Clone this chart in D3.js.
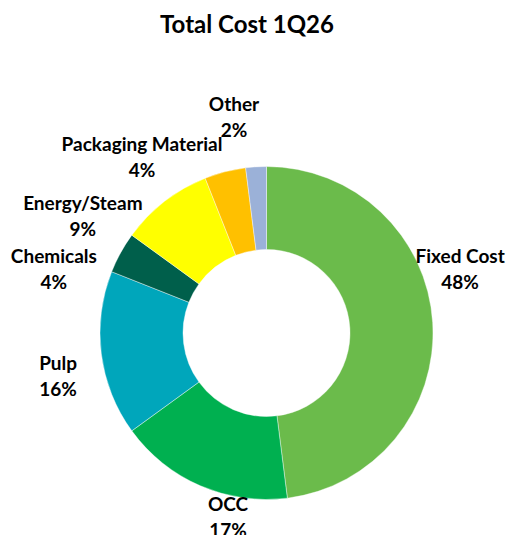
<!DOCTYPE html>
<html>
<head>
<meta charset="utf-8">
<script src="https://cdn.jsdelivr.net/npm/d3@7"></script>
<style>
  body { margin: 0; background: #fff; }
  text { font-family: Lato, "Liberation Sans", sans-serif; font-weight: bold; fill: #000; }
</style>
</head>
<body>
<div id="chart"></div>
<script>
// slice data, clockwise from 12 o'clock
const categories = ['Fixed Cost', 'OCC', 'Pulp', 'Chemicals', 'Energy/Steam', 'Packaging Material', 'Other'];
const shares = [48, 17, 16, 4, 9, 4, 2];
const colors = ['#6BBB4B', '#00B050', '#00A6BB', '#005F4B', '#FFFF00', '#FFC000', '#9BB1D8'];
// label nudges away from the plain centroid (Excel-like placement)
const labelNudge = [[-11, -44], [43, 3], [-5, 24], [-33, 42], [-58, 52], [-73.5, 30], [-19.6, -4]];

const width = 507;
const height = 535;
const cx = 266.5, cy = 333;
const outerR = 166.5, innerR = 83.5, labelR = 205;

const svg = d3.select('#chart').append('svg')
  .attr('width', width)
  .attr('height', height);

svg.append('text')
  .attr('x', 247)
  .attr('y', 33)
  .attr('text-anchor', 'middle')
  .attr('font-size', 24)
  .text('Total Cost 1Q26');

const data = categories.map((c, i) => ({ name: c, value: shares[i], color: colors[i], nudge: labelNudge[i] }));

const pie = d3.pie()
  .value(d => d.value)
  .sort(null);

const arc = d3.arc()
  .innerRadius(innerR)
  .outerRadius(outerR);

const labelArc = d3.arc()
  .innerRadius(labelR)
  .outerRadius(labelR);

const g = svg.append('g')
  .attr('transform', `translate(${cx}, ${cy})`);

const arcs = pie(data);

g.selectAll('path').data(arcs)
  .enter().append('path')
    .attr('d', arc)
    .attr('fill', d => d.data.color)
    .attr('stroke', '#fff')
    .attr('stroke-width', 0.4);

const labels = g.selectAll('.lbl').data(arcs)
  .enter().append('text')
    .attr('class', 'lbl')
    .attr('text-anchor', 'middle')
    .attr('font-size', 19)
    .attr('transform', d => {
      const [x, y] = labelArc.centroid(d);
      return `translate(${x + d.data.nudge[0]}, ${y + d.data.nudge[1]})`;
    });

labels.append('tspan')
  .attr('x', 0)
  .attr('y', -13)
  .text(d => d.data.name);

labels.append('tspan')
  .attr('x', 0)
  .attr('y', 13)
  .text(d => d.data.value + '%');
</script>
</body>
</html>
